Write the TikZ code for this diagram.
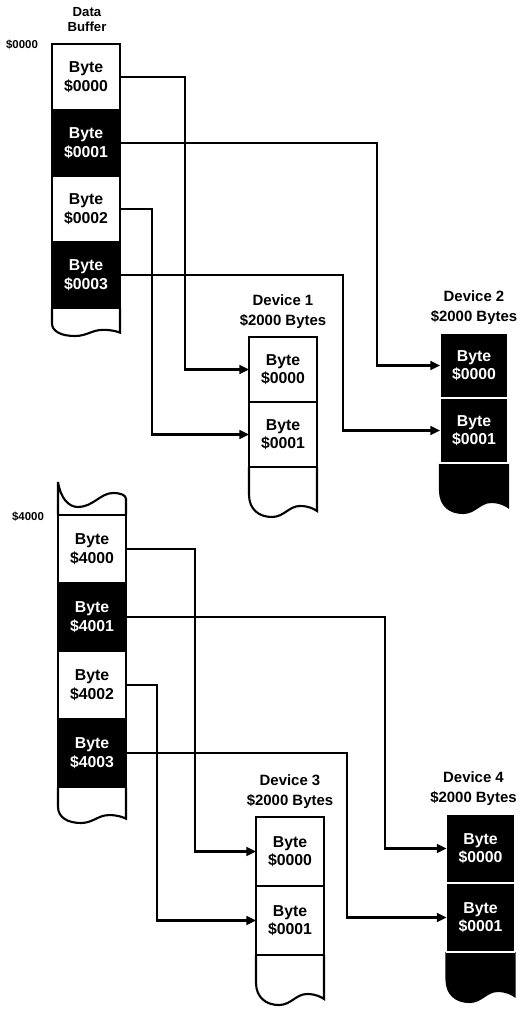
\documentclass[tikz,border=0pt]{standalone}
\usepackage{fontspec}
\setmainfont{Liberation Sans}
\usetikzlibrary{arrows.meta,positioning,backgrounds}

\begin{document}
\begin{tikzpicture}[
    cell/.style={draw, line width=1.2pt, outer sep=0pt, inner sep=0pt, minimum width=1.36cm,
        align=center, font=\fontsize{9}{10.5}\selectfont\bfseries},
    cellw/.style={cell, fill=white, text=black},
    cellb/.style={cell, fill=black, text=white},
    devb/.style={cell, fill=black, text=white, draw=white, line width=0.8pt},
    hdr/.style={align=center, font=\fontsize{8.5}{11.5}\selectfont\bfseries},
    addr/.style={font=\fontsize{6.5}{7}\selectfont\bfseries},
    link/.style={line width=1.2pt, -{Triangle[length=5.5pt,width=5pt]}},
    tear/.style={draw=black, line width=1.2pt}
]
    \useasboundingbox (0,0) rectangle (10.38,-20.24);

    % Data buffer, first block
    \node[align=center, font=\fontsize{7.5}{8.5}\selectfont\bfseries] (dbuf) at (1.74,-0.4) {Data\\Buffer};
    \node[addr] (a0) at (0.44,-0.9) {\$0000};
    \foreach \i/\s in {0/cellw,1/cellb,2/cellw,3/cellb}
        \node[\s, minimum height=1.32cm] (b\i) at (1.72,-1.54-1.32*\i) {Byte\\\$000\i};

    % Devices 1 and 2
    \node[cellw, minimum height=1.3cm] (d1a) at (5.66,-7.39) {Byte\\\$0000};
    \node[cellw, minimum height=1.3cm, below=0pt of d1a] (d1b) {Byte\\\$0001};
    \node[hdr, above=1pt of d1a] (h1) {Device 1\\\$2000 Bytes};

    \node[devb, minimum height=1.3cm] (d2a) at (9.48,-7.31) {Byte\\\$0000};
    \node[devb, minimum height=1.3cm, below=0pt of d2a] (d2b) {Byte\\\$0001};
    \node[hdr, above=1pt of d2a] (h2) {Device 2\\\$2000 Bytes};

    % Data buffer, second block
    \node[addr] (a1) at (0.56,-10.34) {\$4000};
    \foreach \i/\s in {0/cellw,1/cellb,2/cellw,3/cellb}
        \node[\s, minimum height=1.36cm] (c\i) at (1.84,-10.98-1.36*\i) {Byte\\\$400\i};

    % Devices 3 and 4
    \node[cellw, minimum height=1.38cm] (d3a) at (5.8,-17.03) {Byte\\\$0000};
    \node[cellw, minimum height=1.38cm, below=0pt of d3a] (d3b) {Byte\\\$0001};
    \node[hdr, above=1pt of d3a] (h3) {Device 3\\\$2000 Bytes};

    \node[devb, minimum height=1.38cm] (d4a) at (9.61,-16.97) {Byte\\\$0000};
    \node[devb, minimum height=1.38cm, below=0pt of d4a] (d4b) {Byte\\\$0001};
    \node[hdr, above=1pt of d4a, xshift=-4pt] (h4) {Device 4\\\$2000 Bytes};

    % Torn ends
    \begin{scope}[on background layer]
        \foreach \n/\f/\s in {b3/white/0.56, d1b/white/1, d2b/black/1, c3/white/0.72, d3b/white/1, d4b/black/1}
            \draw[tear, fill=\f, shift={(\n.south west)}, yscale=\s]
                (0,0) -- (0,-0.55) .. controls (0,-0.85) and (0.2,-1) .. (0.46,-1)
                .. controls (0.7,-1) and (0.8,-0.78) .. (1.02,-0.78)
                .. controls (1.2,-0.78) and (1.3,-0.84) .. (1.36,-0.88) -- (1.36,0);
        \draw[tear, fill=white, shift={(c0.north west)}]
            (0,0) -- (0,0.66) .. controls (0.05,0.35) and (0.2,0.16) .. (0.4,0.16)
            .. controls (0.7,0.16) and (0.85,0.44) .. (1.1,0.44)
            .. controls (1.25,0.44) and (1.36,0.4) .. (1.36,0.32) -- (1.36,0);
    \end{scope}

    % Connectors
    \draw[link] (b0.east) -- ([xshift=1.3cm]b0.east) |- (d1a.west);
    \draw[link] (b1.east) -- ([xshift=5.14cm]b1.east) |- (d2a.west);
    \draw[link] (b2.east) -- ([xshift=0.64cm]b2.east) |- (d1b.west);
    \draw[link] (b3.east) -- ([xshift=4.46cm]b3.east) |- (d2b.west);

    \draw[link] (c0.east) -- ([xshift=1.38cm]c0.east) |- (d3a.west);
    \draw[link] (c1.east) -- ([xshift=5.18cm]c1.east) |- (d4a.west);
    \draw[link] (c2.east) -- ([xshift=0.62cm]c2.east) |- (d3b.west);
    \draw[link] (c3.east) -- ([xshift=4.42cm]c3.east) |- (d4b.west);
\end{tikzpicture}
\end{document}
